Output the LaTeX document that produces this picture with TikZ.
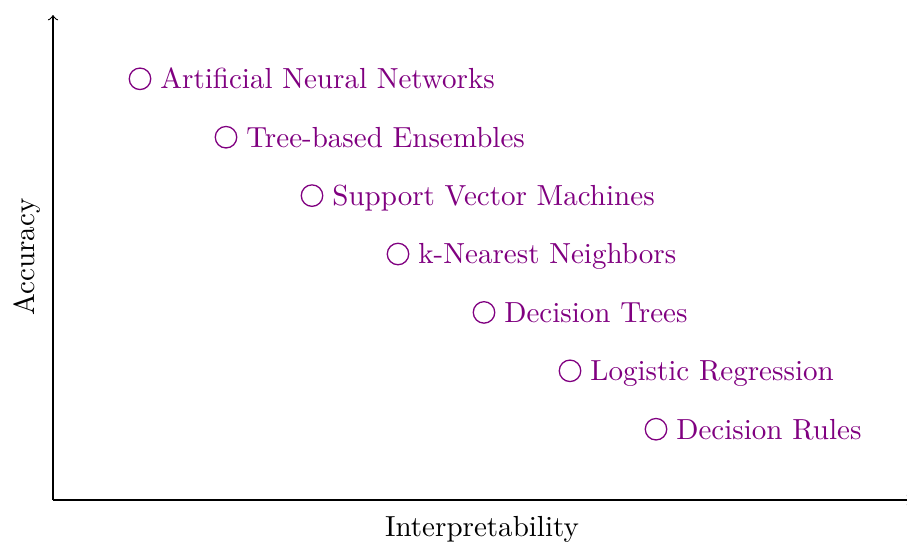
\documentclass[tikz,border=0pt]{standalone}
\definecolor{myviolet}{RGB}{128,0,128}
\begin{document}
\begin{tikzpicture}[x=0.3443pt,y=-0.3443pt,
  dotnode/.style={circle,draw=myviolet,line width=0.45pt,minimum size=7.4pt,inner sep=0pt},
  labnode/.style={text=myviolet,anchor=base west,inner sep=0pt},
  axislab/.style={inner sep=0pt}]
\useasboundingbox (0,0) rectangle (907,543);
\coordinate (O) at (53,500);
\coordinate (Ytop) at (53,15);
\coordinate (Xend) at (912,500);
\draw[->] (O) -- (Ytop);
\draw[->] (O) -- (Xend);
\node[axislab,anchor=base] (xl) at (482,536.7) {Interpretability};
\node[axislab,rotate=90,anchor=base] (yl) at (34,257) {Accuracy};
\foreach \i/\t in {1/Artificial Neural Networks,2/Tree-based Ensembles,3/Support Vector Machines,4/k-Nearest Neighbors,5/Decision Trees,6/Logistic Regression,7/Decision Rules}{
  \pgfmathsetmacro{\cx}{140+86*(\i-1)}
  \pgfmathsetmacro{\cy}{78.8+58.4*(\i-1)}
  \node[dotnode] (c\i) at (\cx,\cy) {};
  \node[labnode] (t\i) at (\cx+19.8,\cy+9.9) {\t};
}
\end{tikzpicture}
\end{document}
